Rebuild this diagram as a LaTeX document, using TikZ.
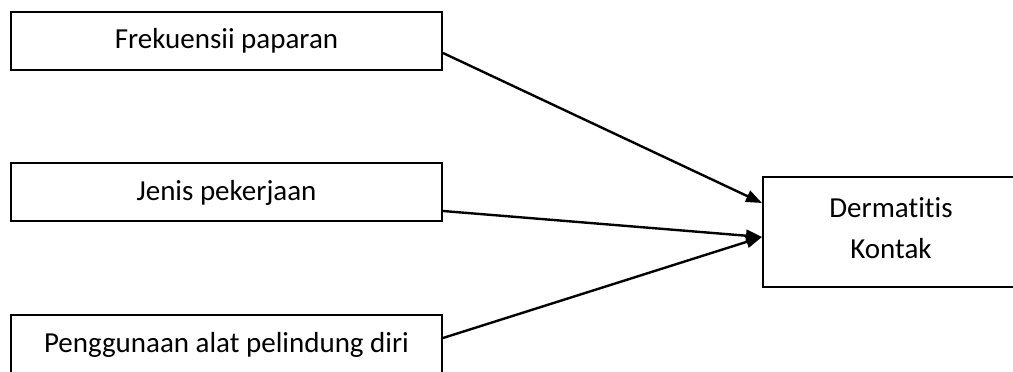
\documentclass[tikz,border=0pt]{standalone}
\usepackage{fontspec}
\setmainfont{Carlito}[Ligatures=NoCommon]
\usetikzlibrary{arrows.meta}
\begin{document}
\begin{tikzpicture}[x=1pt,y=1pt,
  txt/.style={font=\fontsize{29}{41}\selectfont,align=center,inner sep=0pt},
  box/.style={txt,draw=black,line width=2pt,minimum width=431pt,minimum height=58pt},
  conn/.style={line width=2.4pt,-{Triangle[length=16pt,width=12pt]}}]
\useasboundingbox[fill=white] (0,0) rectangle (1013,372);
\node[box] (f) at (226.5,331) {Frekuensii paparan};
\node[box] (j) at (226.5,179.5) {Jenis pekerjaan};
\node[box] (p) at (226.5,27.5) {Penggunaan alat pelindung diri};
\node[box,minimum width=267pt,minimum height=110pt] (d) at (896.5,140) {};
\node[txt] (dt) at (891,144) {Dermatitis\\Kontak};
\coordinate (s1) at ([yshift=-12pt]f.east);
\coordinate (s2) at ([yshift=-18.5pt]j.east);
\coordinate (s3) at ([yshift=6.5pt]p.east);
\coordinate (e1) at ([yshift=29pt]d.west);
\coordinate (e2) at ([yshift=-5pt]d.west);
\draw[conn] (s1) -- (e1);
\draw[conn] (s2) -- (e2);
\draw[conn] (s3) -- (e2);
\end{tikzpicture}
\end{document}
